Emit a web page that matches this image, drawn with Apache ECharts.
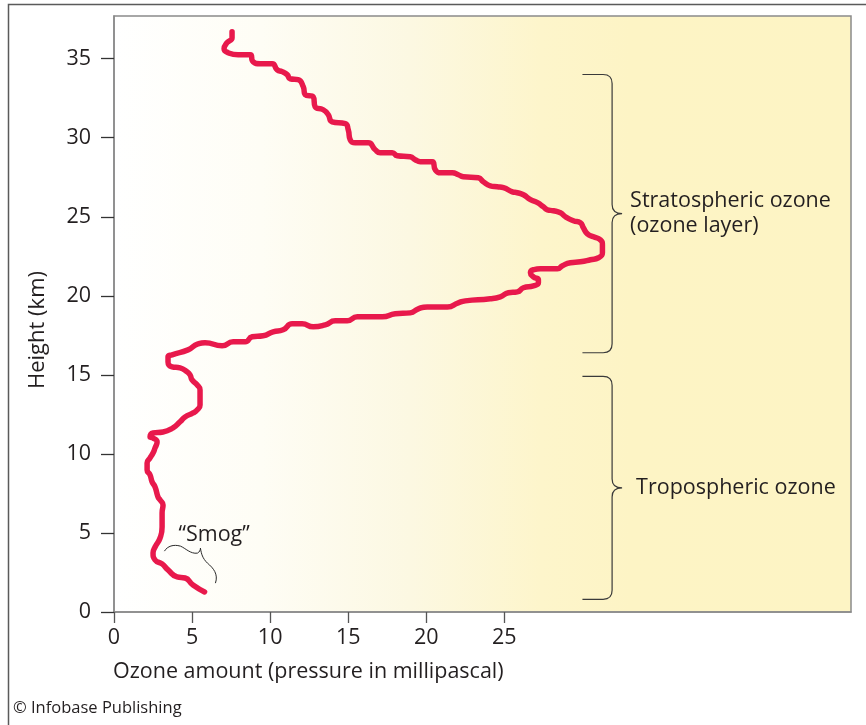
<!DOCTYPE html>
<html>
<head>
<meta charset="utf-8">
<script src="https://cdn.jsdelivr.net/npm/echarts@6/dist/echarts.min.js"></script>
<style>
  html, body { margin: 0; padding: 0; background: #ffffff; }
  #chart { width: 866px; height: 725px; }
</style>
</head>
<body>
<div id="chart"></div>
<script>
// Ozone profile: amount (mPa) against height (km), traced upward from the ground
const ozoneAmount = [
  5.8, 5.06, 4.55, 4.04, 3.46, 3.08, 2.63, 2.5, 2.63, 2.95,
  3.08, 3.08, 3.14, 2.95, 2.82, 2.63, 2.44, 2.31, 2.12, 2.12,
  2.31, 2.5, 2.63, 2.76, 2.5, 2.31, 2.5, 3.14, 3.78, 4.23,
  4.55, 5.06, 5.32, 5.51, 5.51, 5.32, 5.0, 4.87, 4.68, 4.23,
  3.72, 3.46, 3.46, 3.72, 4.74, 5.38, 5.83, 6.92, 7.63, 8.4,
  8.85, 9.55, 10.19, 10.83, 11.41, 12.05, 12.76, 13.53, 14.17, 14.94,
  15.58, 17.18, 18.01, 18.97, 19.49, 20.06, 21.35, 22.05, 22.5, 24.1,
  24.74, 25.26, 25.83, 26.22, 26.86, 27.18, 27.18, 26.86, 26.67, 26.86,
  27.31, 28.4, 28.72, 29.23, 29.87, 30.51, 31.03, 31.28, 31.28, 31.15,
  30.71, 30.32, 30.06, 29.87, 29.42, 28.91, 28.59, 28.14, 27.76, 27.5,
  27.12, 26.67, 26.22, 25.83, 25.51, 24.94, 24.55, 24.1, 23.65, 23.33,
  22.37, 22.05, 21.67, 20.9, 20.58, 20.38, 19.62, 19.29, 18.97, 18.14,
  17.82, 17.05, 16.73, 16.28, 15.45, 15.13, 15.0, 14.81, 13.97, 13.72,
  13.4, 12.88, 12.76, 12.24, 12.12, 11.79, 11.28, 11.09, 10.77, 10.45,
  10.13, 9.36, 8.91, 8.72, 7.95, 7.31, 7.05, 7.24, 7.56, 7.56
];
const heightKm = [
  1.27, 1.71, 2.15, 2.22, 2.66, 3.04, 3.29, 3.73, 4.11, 4.68,
  5.38, 6.27, 6.77, 7.09, 7.28, 7.91, 8.23, 8.67, 8.99, 9.43,
  9.75, 10.06, 10.38, 10.76, 11.01, 11.08, 11.33, 11.39, 11.65, 12.03,
  12.34, 12.59, 12.78, 13.1, 14.05, 14.37, 14.68, 15.0, 15.19, 15.44,
  15.51, 15.82, 16.14, 16.27, 16.58, 16.96, 17.03, 16.84, 17.09, 17.09,
  17.41, 17.47, 17.72, 17.85, 18.23, 18.23, 18.04, 18.16, 18.42, 18.42,
  18.67, 18.67, 18.86, 18.92, 19.18, 19.3, 19.3, 19.56, 19.68, 19.81,
  19.94, 20.19, 20.25, 20.51, 20.63, 20.82, 21.01, 21.2, 21.46, 21.65,
  21.71, 21.71, 21.9, 22.09, 22.15, 22.28, 22.41, 22.72, 23.23, 23.54,
  23.73, 23.92, 24.3, 24.62, 24.75, 25.0, 25.25, 25.38, 25.44, 25.63,
  25.89, 26.08, 26.39, 26.52, 26.58, 26.84, 26.9, 26.96, 27.22, 27.47,
  27.53, 27.66, 27.78, 27.78, 27.97, 28.48, 28.48, 28.61, 28.8, 28.86,
  29.05, 29.05, 29.24, 29.68, 29.68, 29.87, 30.51, 30.89, 31.01, 31.46,
  31.77, 31.96, 32.59, 32.72, 33.23, 33.67, 33.73, 33.99, 34.18, 34.3,
  34.68, 34.68, 34.81, 35.25, 35.25, 35.38, 35.63, 36.01, 36.33, 36.71
];

// Tick labels
const xTickValues = [0, 5, 10, 15, 20, 25];
const yTickValues = [0, 5, 10, 15, 20, 25, 30, 35];

// Layer brackets: [lower km, upper km] and their captions
const layerRanges = [[16.4, 34.0], [0.8, 14.9]];
const layerLabels = [['Stratospheric ozone', '(ozone layer)'], ['Tropospheric ozone']];

// Smog callout anchored near the ground-level bump
const smogLabel = '\u201CSmog\u201D';
const smogAnchor = [5.6, 3.85];

const FONT = '"Open Sans", "Noto Sans", sans-serif';
const INK = '#231f20';
const FS = 21.5;

const profile = ozoneAmount.map((v, i) => [v, heightKm[i]]);

const chart = echarts.init(document.getElementById('chart'), null, { renderer: 'canvas' });

chart.setOption({
  animation: false,
  backgroundColor: '#ffffff',
  grid: {
    left: 114, top: 16, width: 737, height: 596,
    show: true,
    borderColor: '#8a8a8a',
    borderWidth: 1.5,
    backgroundColor: {
      type: 'linear', x: 0, y: 0, x2: 1, y2: 0,
      colorStops: [
        { offset: 0, color: '#ffffff' },
        { offset: 0.2, color: '#fefdf5' },
        { offset: 0.4, color: '#fcf8e2' },
        { offset: 0.58, color: '#fdf5cb' },
        { offset: 0.7, color: '#fdf4c5' },
        { offset: 1, color: '#fdf4c4' }
      ]
    }
  },
  xAxis: {
    type: 'value', min: 0, max: 47.2,
    splitLine: { show: false },
    axisLine: { show: true, lineStyle: { color: '#8a8a8a', width: 1.5 } },
    axisTick: { show: true, length: 11, customValues: xTickValues, lineStyle: { color: '#555', width: 1.3 } },
    axisLabel: { customValues: xTickValues, margin: 15, fontSize: FS, fontFamily: FONT, color: INK }
  },
  yAxis: {
    type: 'value', min: 0, max: 37.7,
    splitLine: { show: false },
    axisLine: { show: true, lineStyle: { color: '#8a8a8a', width: 1.5 } },
    axisTick: { show: true, length: 13, customValues: yTickValues, lineStyle: { color: '#333', width: 1.3 } },
    axisLabel: { customValues: yTickValues, margin: 23, fontSize: FS, fontFamily: FONT, color: INK }
  },
  series: [
    {
      type: 'line',
      data: profile,
      showSymbol: false,
      smooth: 0.55,
      lineStyle: { color: '#e8194c', width: 5.5, cap: 'round', join: 'round' },
      z: 3
    },
    {
      // curly brackets marking the two ozone layers
      type: 'custom',
      data: layerRanges.map((r, i) => [i, r[0], r[1]]),
      renderItem: function (params, api) {
        const idx = api.value(0);
        const lo = api.coord([0, api.value(1)])[1];
        const hi = api.coord([0, api.value(2)])[1];
        const xs = api.coord([30.0, 0])[0];
        const xv = api.coord([31.9, 0])[0];
        const xt = xv + 10;
        const mid = (lo + hi) / 2;
        const r = 9;
        const d = [
          'M', xs, hi, 'L', xv - r, hi,
          'Q', xv, hi, xv, hi + r,
          'L', xv, mid - r,
          'Q', xv, mid, xt, mid,
          'Q', xv, mid, xv, mid + r,
          'L', xv, lo - r,
          'Q', xv, lo, xv - r, lo,
          'L', xs, lo
        ].join(' ');
        const lines = layerLabels[idx];
        const children = [{
          type: 'path',
          shape: { pathData: d },
          style: { fill: null, stroke: '#3a3a3a', lineWidth: 1.2 }
        }];
        lines.forEach((t, k) => {
          const off = (k - (lines.length - 1) / 2) * 25;
          children.push({
            type: 'text',
            style: {
              text: t, x: xt + (lines.length > 1 ? 8 : 14), y: mid + off,
              fill: INK, font: FS + 'px ' + FONT,
              verticalAlign: 'middle', align: 'left'
            }
          });
        });
        return { type: 'group', children: children };
      },
      z: 4
    },
    {
      // "Smog" callout with its little sideways bracket
      type: 'custom',
      data: [smogAnchor],
      renderItem: function (params, api) {
        const p = api.coord([api.value(0), api.value(1)]);
        const x = p[0], y = p[1];
        const d = [
          'M', x - 37, y - 0,
          'C', x - 34, y - 5, x - 28, y - 7, x - 21, y - 5,
          'C', x - 16, y - 3, x - 11, y + 3, x - 4, y + 2,
          'C', x - 2, y + 1, x - 1, y - 1, x - 1, y - 3,
          'C', x, y + 3, x + 1, y + 7, x + 6, y + 12,
          'C', x + 12, y + 17, x + 17, y + 23, x + 14, y + 32
        ].join(' ');
        return {
          type: 'group',
          children: [
            { type: 'path', shape: { pathData: d }, style: { fill: null, stroke: '#2a2a2a', lineWidth: 1 } },
            {
              type: 'text',
              style: {
                text: smogLabel, x: x - 23, y: y - 16,
                fill: INK, font: FS + 'px ' + FONT, verticalAlign: 'middle', align: 'left'
              }
            }
          ]
        };
      },
      z: 4
    }
  ],
  graphic: [
    {
      type: 'rect', silent: true, z: -10,
      shape: { x: 8.5, y: 4.5, width: 880, height: 740 },
      style: { fill: null, stroke: '#5a5a5a', lineWidth: 1.5 }
    },
    {
      type: 'text', left: 113, top: 661,
      style: { text: 'Ozone amount (pressure in millipascal)', fill: INK, font: FS + 'px ' + FONT }
    },
    {
      type: 'text', x: 38, y: 330, rotation: Math.PI / 2,
      style: { text: 'Height (km)', fill: INK, font: '22px ' + FONT, align: 'center', verticalAlign: 'middle' }
    },
    {
      type: 'text', left: 13, top: 700,
      style: { text: '\u00A9 Infobase Publishing', fill: INK, font: '16.5px ' + FONT }
    }
  ]
});
</script>
</body>
</html>
